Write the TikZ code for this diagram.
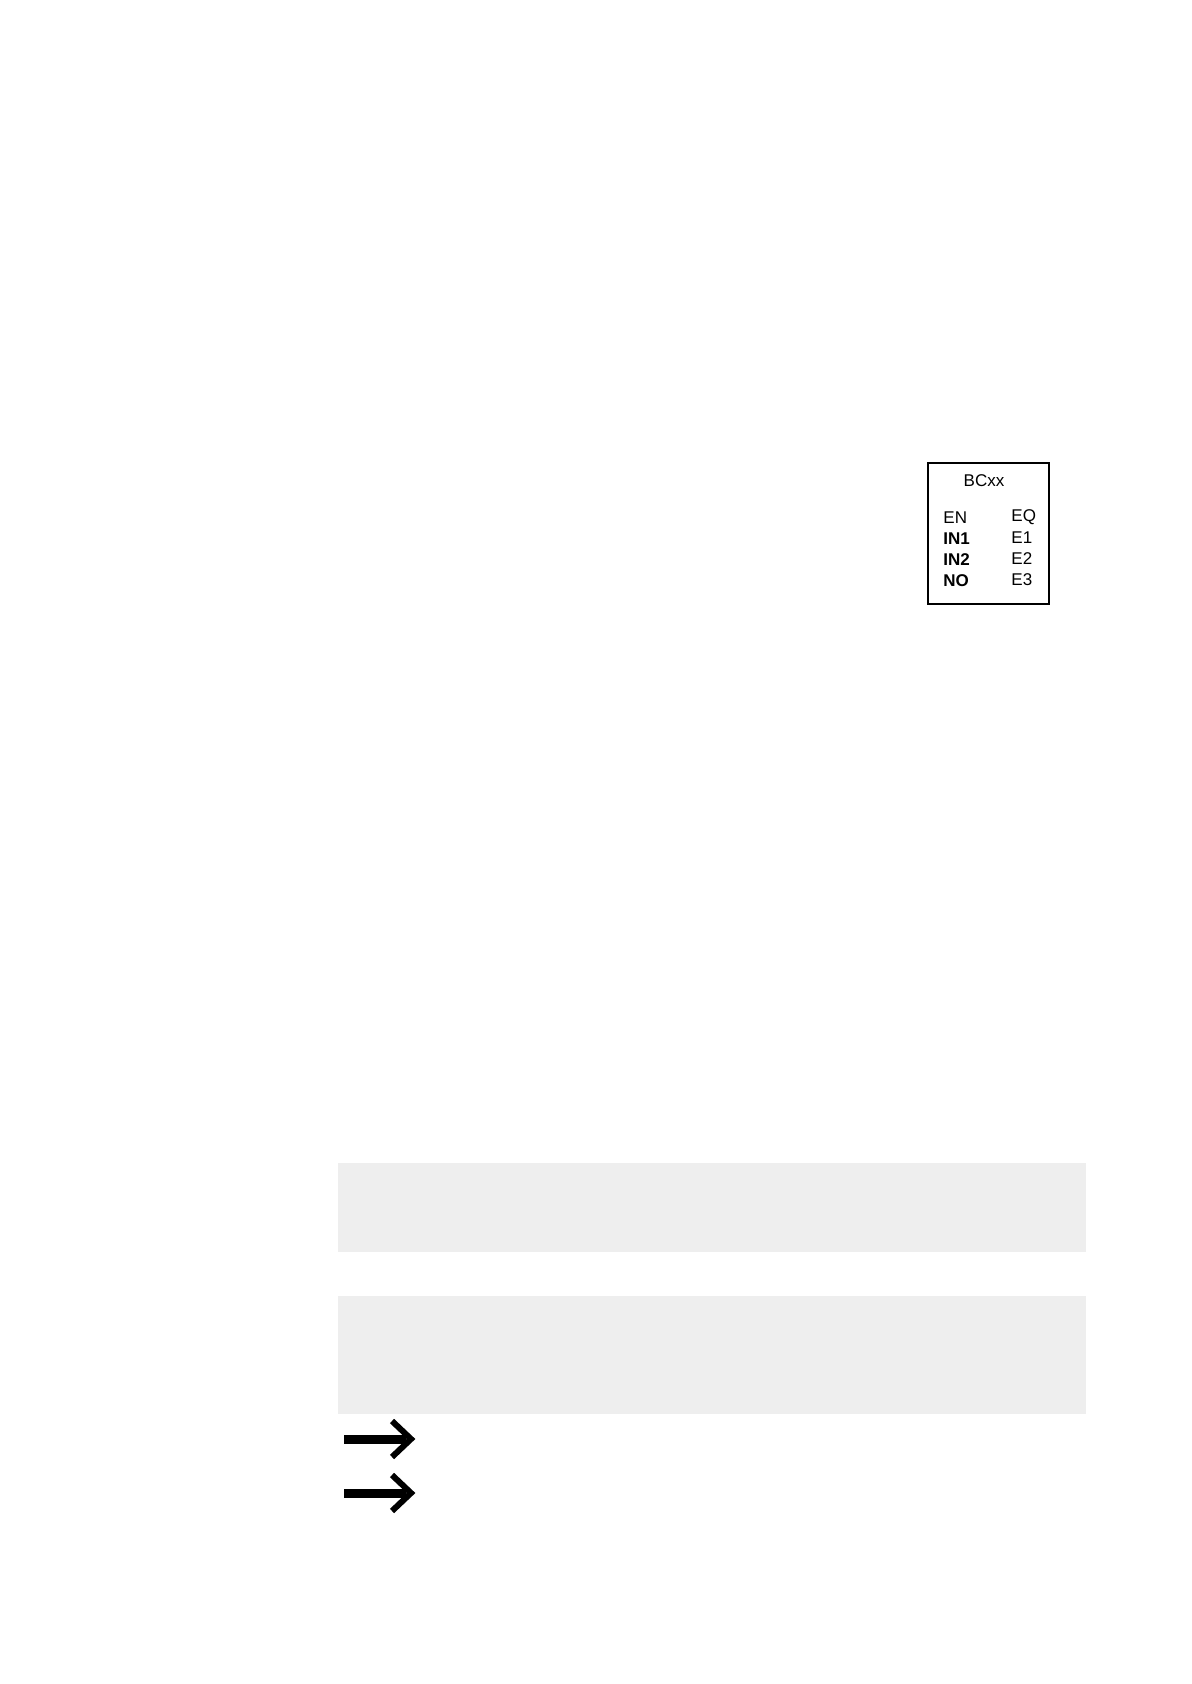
\documentclass[tikz,border=0pt]{standalone}
\usepackage{fontspec}
\setmainfont{Liberation Sans}
\definecolor{notegray}{HTML}{EEEEEE}
\tikzset{
  pin/.style={anchor=west,inner sep=0pt,font=\fontsize{8.5}{10}\selectfont},
  hint/.style={line width=3pt,black},
}

\begin{document}
\begin{tikzpicture}[x=0.5pt,y=-0.5pt]
  \useasboundingbox (0,0) rectangle (1191,1684);
  % function block
  \node[draw,line width=1pt,minimum width=60.5pt,minimum height=70.5pt,inner sep=0pt] (blk) at (988.5,533) {};
  \node[inner sep=0pt,font=\fontsize{8.5}{10}\selectfont] (name) at (984,481) {BCxx};
  \foreach \lab/\out [count=\i] in {EN/EQ,\textbf{IN1}/E1,\textbf{IN2}/E2,\textbf{NO}/E3}{
    \node[pin] (in\i) at (943,{497+21*\i}) {\lab};
    \node[pin] (out\i) at (1011,{496+21*\i}) {\out};
  }
  % shaded panels
  \fill[notegray] (338,1163) rectangle (1086,1252);
  \fill[notegray] (338,1296) rectangle (1086,1414);
  % arrows
  \foreach \y in {1439,1493}{
    \draw[hint,line width=4.5pt] (344,\y) -- (406,\y);
    \draw[hint,line join=miter] (392,\y-18) -- (411,\y) -- (392,\y+18);
  }
\end{tikzpicture}
\end{document}
